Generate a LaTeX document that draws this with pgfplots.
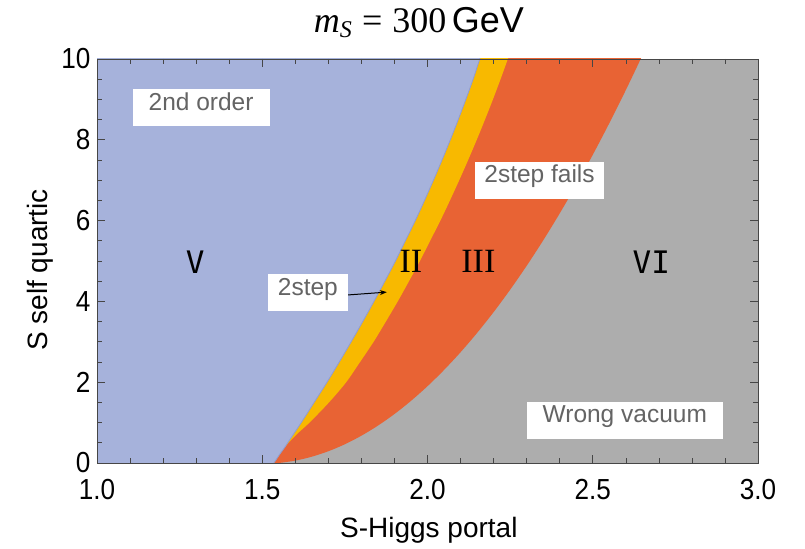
\documentclass[border=0pt]{standalone}
\usepackage{pgfplots}
\pgfplotsset{compat=1.18}
\usepackage{fontspec}
\setmainfont{Liberation Sans}
\newfontfamily\tickfont[FakeStretch=0.9]{Liberation Sans}
\newfontfamily\numsans{DejaVu Sans Mono}
\newfontfamily\numserif{Liberation Serif}
\usetikzlibrary{arrows.meta}

\definecolor{regV}{RGB}{166,178,219}
\definecolor{regII}{RGB}{248,185,0}
\definecolor{regIII}{RGB}{232,99,52}
\definecolor{regVI}{RGB}{173,173,173}
\definecolor{edgeV}{RGB}{145,156,208}
\definecolor{boxtext}{RGB}{100,100,100}
\definecolor{frame}{RGB}{70,70,70}

\tikzset{
  region label/.style={fill=white, text=boxtext, inner xsep=16bp,
    minimum height=37bp, text height=0.72em, text depth=0.2em,
    font=\fontsize{24.5bp}{28bp}\selectfont},
}

\begin{document}
\begin{tikzpicture}
\path[use as bounding box] (0,0) rectangle (805bp,549bp);
\begin{axis}[
  at={(97bp,86bp)}, anchor=south west,
  width=661bp, height=404bp, scale only axis,
  xmin=1, xmax=3, ymin=0, ymax=10,
  xtick={1,1.5,2,2.5,3}, ytick={0,2,4,6,8,10},
  minor x tick num=4, minor y tick num=3,
  major tick length=8bp, minor tick length=5bp,
  tick style={frame, line width=0.6bp},
  axis line style={frame, line width=0.7bp},
  axis background/.style={fill=regVI},
  axis on top,
  /pgf/number format/assume math mode=true,
  xticklabel style={font=\tickfont\fontsize{29bp}{30bp}\selectfont, yshift=-13bp,
    /pgf/number format/.cd, fixed, fixed zerofill, precision=1},
  yticklabel style={font=\tickfont\fontsize{29bp}{30bp}\selectfont, xshift=-3bp},
  xlabel={S-Higgs portal},
  ylabel={S self quartic},
  label style={font=\fontsize{28bp}{30bp}\selectfont},
  xlabel style={at={(axis description cs:0.502,-0.166)}, anchor=center},
  ylabel style={at={(axis description cs:-0.086,0.478)}, anchor=center},
  title={{\numserif\itshape m\raisebox{-0.3ex}{\fontsize{24bp}{26bp}\selectfont S}}%
    {\numserif\hspace{0.28em}=\hspace{0.28em}300}\hspace{0.15em}GeV},
  title style={at={(axis description cs:0.487,1.075)}, anchor=center,
    font=\fontsize{36bp}{40bp}\selectfont},
]
% region III (two-step fails): everything left of the wrong-vacuum edge
\addplot[fill=regIII, draw=none, smooth, tension=0.5] coordinates {
  (0.8,-0.6) (1.40,-0.6) (1.45,-0.08) (1.50,-0.04) (1.55,0) (1.60,0.059)
  (1.65,0.156) (1.70,0.291) (1.75,0.464) (1.80,0.676) (1.85,0.925)
  (1.90,1.212) (1.95,1.538) (2.00,1.901) (2.05,2.303) (2.10,2.742)
  (2.15,3.22) (2.20,3.735) (2.25,4.289) (2.30,4.881) (2.35,5.51)
  (2.40,6.178) (2.45,6.884) (2.50,7.628) (2.55,8.41) (2.60,9.23)
  (2.65,10.088) (2.70,10.98) (2.72,11.5) (0.8,11.5)};
% region II (two-step)
\addplot[fill=regII, draw=none, smooth, tension=0.5] coordinates {
  (0.8,-0.6) (1.49,-0.6) (1.515,-0.2) (1.535,0) (1.5515,0.2) (1.569,0.4)
  (1.603,0.7) (1.643,1.0) (1.702,1.5) (1.754,2.0) (1.796,2.5) (1.837,3.0)
  (1.874,3.5) (1.910,4.0) (1.944,4.5) (1.977,5.0) (2.008,5.5) (2.039,6.0)
  (2.068,6.5) (2.096,7.0) (2.123,7.5) (2.149,8.0) (2.174,8.5) (2.198,9.0)
  (2.221,9.5) (2.243,10) (2.264,10.5) (2.28,11.5) (0.8,11.5)};
% region V (second order)
\addplot[fill=regV, draw=none, smooth, tension=0.5] coordinates {
  (0.8,-0.6) (1.49,-0.6) (1.515,-0.2) (1.535,0) (1.5515,0.2) (1.569,0.4)
  (1.577,0.5) (1.618,1.0) (1.657,1.5) (1.696,2.0) (1.733,2.5) (1.769,3.0)
  (1.804,3.5) (1.838,4.0) (1.871,4.5) (1.903,5.0) (1.933,5.5) (1.963,6.0)
  (1.991,6.5) (2.018,7.0) (2.044,7.5) (2.069,8.0) (2.093,8.5) (2.116,9.0)
  (2.138,9.5) (2.158,10) (2.177,10.5) (2.2,11.5) (0.8,11.5)};
% soft edge of region V
\addplot[draw=edgeV, line width=0.8bp, smooth, tension=0.5] coordinates {
  (1.515,-0.2) (1.535,0) (1.5515,0.2) (1.569,0.4)
  (1.577,0.5) (1.618,1.0) (1.657,1.5) (1.696,2.0) (1.733,2.5) (1.769,3.0)
  (1.804,3.5) (1.838,4.0) (1.871,4.5) (1.903,5.0) (1.933,5.5) (1.963,6.0)
  (1.991,6.5) (2.018,7.0) (2.044,7.5) (2.069,8.0) (2.093,8.5) (2.116,9.0)
  (2.138,9.5) (2.158,10) (2.177,10.5)};

% phase labels
\node[font=\numsans\fontsize{31bp}{34bp}\selectfont] at (axis cs:1.297,4.98) {V};
\node[font=\numserif\fontsize{34bp}{36bp}\selectfont] at (axis cs:1.950,4.98) {II};
\node[font=\numserif\fontsize{34bp}{36bp}\selectfont] at (axis cs:2.154,4.98) {III};
\node[font=\numsans\fontsize{31bp}{34bp}\selectfont] at (axis cs:2.677,4.98) {VI};

% boxed region names
\node[region label] at (axis cs:1.315,8.79) {2nd order};
\node[region label, inner xsep=9bp] at (axis cs:2.339,7.0) {2step fails};
\node[region label] at (axis cs:2.597,1.06) {Wrong vacuum};
\node[region label, inner xsep=10bp] at (axis cs:1.638,4.22) {2step};
\draw[-{Stealth[length=7bp,width=5bp]}, line width=1bp, black]
  (axis cs:1.760,4.16) -- (axis cs:1.877,4.23);
\end{axis}
\end{tikzpicture}
\end{document}
